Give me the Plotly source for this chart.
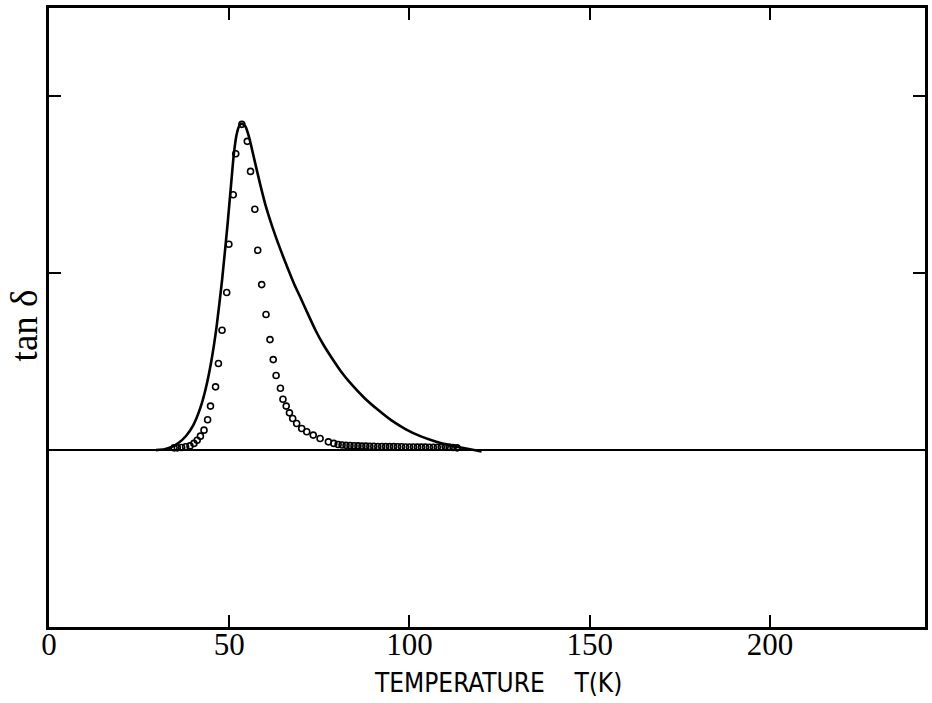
import plotly.graph_objects as go

# Solid curve (calculated tan delta)
curve_T = [29.7, 32.0, 34.0, 36.0, 38.0, 40.0, 42.0, 43.5, 45.0, 46.5, 48.0, 49.5, 50.5,
           51.2, 52.0, 52.8, 53.5, 54.5, 55.5, 57.0, 58.5, 60.0, 62.0, 64.0, 66.0, 68.0,
           70.0, 72.0, 74.0, 76.0, 78.0, 81.0, 84.0, 87.5, 91.0, 95.0, 99.0, 103.0,
           107.0, 111.0, 115.0, 120.0]
curve_v = [0.0, 0.005, 0.018, 0.042, 0.08, 0.14, 0.24, 0.35, 0.5, 0.7, 0.96, 1.27, 1.5,
           1.66, 1.78, 1.835, 1.847, 1.83, 1.77, 1.64, 1.51, 1.39, 1.26, 1.145, 1.04,
           0.94, 0.852, 0.762, 0.675, 0.6, 0.535, 0.445, 0.37, 0.295, 0.232, 0.168,
           0.118, 0.079, 0.05, 0.027, 0.012, -0.008]

# Open circles (measured tan delta)
meas_T = [34.7, 35.6, 36.8, 37.9, 39.1, 40.2, 41.1, 42.0, 43.0, 44.0, 44.8, 46.2, 47.0,
          48.0, 49.3, 49.9, 51.1, 51.8, 53.5, 55.0, 55.9, 57.1, 57.9, 59.0, 60.2, 61.3,
          62.2, 63.0, 64.2, 64.9, 65.8, 66.7, 67.6, 68.7, 70.1, 71.5, 73.3, 75.2, 77.5,
          79.0, 80.2, 81.3, 82.4, 83.5, 84.6, 85.7, 86.8, 87.9, 89.0, 90.1, 91.2, 92.3,
          93.4, 94.5, 95.6, 96.7, 97.8, 98.9, 100.0, 101.1, 102.2, 103.3, 104.4, 105.5,
          106.6, 107.7, 108.8, 109.9, 111.0, 112.1, 113.2]
meas_v = [0.013, 0.013, 0.015, 0.019, 0.024, 0.038, 0.056, 0.079, 0.113, 0.172, 0.249,
          0.358, 0.49, 0.678, 0.891, 1.164, 1.444, 1.676, 1.842, 1.746, 1.576, 1.362,
          1.13, 0.936, 0.767, 0.625, 0.512, 0.422, 0.35, 0.288, 0.249, 0.211, 0.179,
          0.151, 0.122, 0.104, 0.085, 0.066, 0.047, 0.038, 0.032, 0.029, 0.027, 0.026,
          0.025, 0.024, 0.023, 0.023, 0.022, 0.022, 0.021, 0.021, 0.02, 0.02, 0.02,
          0.019, 0.019, 0.018, 0.018, 0.018, 0.017, 0.017, 0.017, 0.016, 0.016, 0.016,
          0.018, 0.02, 0.018, 0.015, 0.013]

x_ticks = [0, 50, 100, 150, 200]
y_ticks = [1, 2]

fig = go.Figure()
fig.add_trace(go.Scatter(x=curve_T, y=curve_v, mode="lines",
                         line=dict(color="black", width=2.6, shape="spline", smoothing=0.5),
                         showlegend=False, hoverinfo="skip"))
fig.add_trace(go.Scatter(x=meas_T, y=meas_v, mode="markers",
                         marker=dict(symbol="circle-open", size=6, color="black",
                                     line=dict(width=1.6, color="black")),
                         showlegend=False, hoverinfo="skip"))

fig.update_layout(
    width=932, height=703,
    margin=dict(l=49, r=4, t=8, b=76),
    paper_bgcolor="white", plot_bgcolor="white",
    xaxis=dict(range=[0, 243], tickvals=x_ticks, ticktext=[str(v) for v in x_ticks],
               ticks="inside", ticklen=12, tickwidth=2, tickcolor="black",
               showline=True, linecolor="black", linewidth=3, mirror="allticks",
               showgrid=False, zeroline=False, ticklabelstandoff=-12,
               tickfont=dict(family="Liberation Serif", size=31, color="black")),
    yaxis=dict(range=[-1, 2.5], tickvals=y_ticks, showticklabels=False,
               ticks="inside", ticklen=12, tickwidth=2, tickcolor="black",
               showline=True, linecolor="black", linewidth=3, mirror="allticks",
               showgrid=False, zeroline=True, zerolinecolor="black", zerolinewidth=2),
    annotations=[
        dict(text="TEMPERATURE&nbsp;&nbsp;&nbsp;&nbsp;T(K)", xref="paper", yref="paper",
             x=0.513, y=-0.091, showarrow=False, xanchor="center", yanchor="middle",
             font=dict(family="DejaVu Sans Condensed, Liberation Sans", size=26, color="black")),
        dict(text="tan δ", xref="paper", yref="paper", x=-0.028, y=0.488,
             showarrow=False, textangle=-90, xanchor="center", yanchor="middle",
             font=dict(family="Liberation Serif", size=37, color="black")),
    ],
)

fig.write_html("out.html")
